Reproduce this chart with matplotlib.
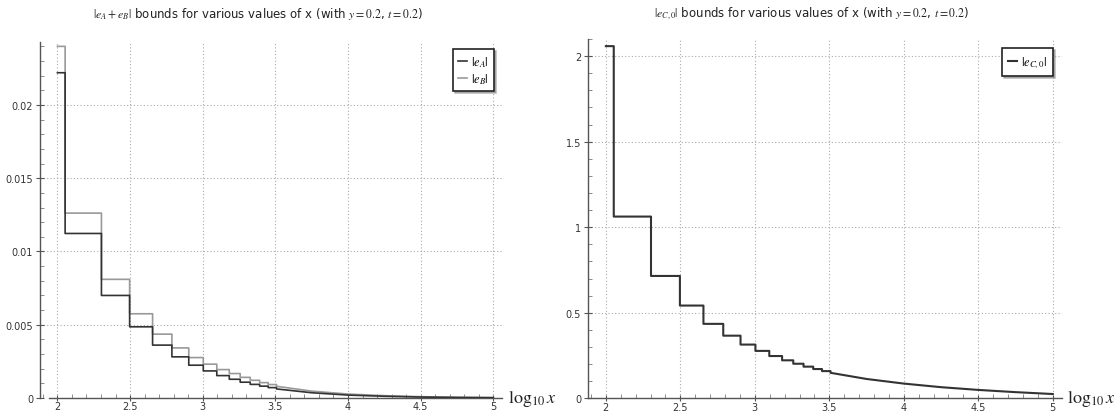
import matplotlib
matplotlib.use("Agg")
import matplotlib.pyplot as plt
import numpy as np
from matplotlib.ticker import MultipleLocator, FixedLocator, FixedFormatter

plt.rcParams['mathtext.fontset'] = 'stix'
plt.rcParams['font.family'] = 'DejaVu Sans'

# step edges (log10 x)
edges = [2.0, 2.053, 2.303, 2.497, 2.655, 2.788, 2.904, 3.004, 3.097,
         3.183, 3.258, 3.327, 3.392, 3.451, 3.508]

# left panel: |e_A| and |e_B|
eA_steps = [0.0222, 0.01123, 0.0070, 0.00486, 0.00361, 0.00281, 0.00224,
            0.00185, 0.00153, 0.00128, 0.00108, 0.00093, 0.00081, 0.00071]
eB_steps = [0.0240, 0.01262, 0.0081, 0.00575, 0.00436, 0.00342, 0.00276,
            0.00231, 0.00194, 0.00167, 0.00141, 0.00121, 0.00105, 0.00092]

# right panel: |e_C,0|
eC_steps = [2.058, 1.062, 0.715, 0.542, 0.435, 0.366, 0.314,
            0.277, 0.247, 0.222, 0.202, 0.185, 0.171, 0.159]

# tails (steps too fine to tell apart)
tail_x = [3.508, 3.75, 4.0, 4.25, 4.5, 4.75, 5.0]
eA_tail = [0.00062, 0.00036, 0.00020, 0.00012, 0.000065, 0.000037, 0.00002]
eB_tail = [0.00080, 0.00047, 0.00027, 0.00016, 0.00009, 0.00005, 0.00003]
eC_tail = [0.149, 0.113, 0.086, 0.065, 0.049, 0.036, 0.025]

left_yticks = [0, 0.005, 0.01, 0.015, 0.02]
left_ylabels = ['0', '0.005', '0.01', '0.015', '0.02']
right_yticks = [0, 0.5, 1, 1.5, 2]
right_ylabels = ['0', '0.5', '1', '1.5', '2']
xticks = [2, 2.5, 3, 3.5, 4, 4.5, 5]
xlabels = ['2', '2.5', '3', '3.5', '4', '4.5', '5']


def staircase(steps, tail):
    xs = list(np.repeat(edges, 2)[1:-1]) + tail_x
    ys = list(np.repeat(steps, 2)) + tail
    return xs, ys


def style_axes(ax, yticks, ylabels, yminor):
    ax.set_xlim(1.88, 5.06)
    for s in ['top', 'right']:
        ax.spines[s].set_visible(False)
    for s in ['left', 'bottom']:
        ax.spines[s].set_color('#555555')
        ax.spines[s].set_linewidth(1.0)
    ax.xaxis.set_major_locator(FixedLocator(xticks))
    ax.xaxis.set_major_formatter(FixedFormatter(xlabels))
    ax.xaxis.set_minor_locator(MultipleLocator(0.1))
    ax.yaxis.set_major_locator(FixedLocator(yticks))
    ax.yaxis.set_major_formatter(FixedFormatter(ylabels))
    ax.yaxis.set_minor_locator(MultipleLocator(yminor))
    ax.tick_params(which='major', direction='inout', length=6, width=0.8,
                   colors='#555555', labelsize=7, labelcolor='#333333', pad=2)
    ax.tick_params(axis='x', which='major', length=4, pad=0.5)
    ax.tick_params(which='minor', direction='in', length=3, width=0.6,
                   colors='#777777')
    ax.grid(True, which='major', linestyle=(0, (1, 2)), color='#aaaaaa',
            linewidth=0.8)
    ax.set_axisbelow(True)
    ax.text(1.012, 0, r'$\log_{10}x$', transform=ax.transAxes,
            fontsize=13, va='center', ha='left', color='#222222')


fig = plt.figure(figsize=(11.17, 4.14), dpi=100)
ax1 = fig.add_axes([0.0358, 0.0362, 0.4136, 0.86])
ax2 = fig.add_axes([0.5264, 0.0355, 0.4241, 0.868])

# left
x, y = staircase(eA_steps, eA_tail)
ax1.plot(x, y, color='#333333', lw=1.2, label=r'$|e_A|$', zorder=3)
x, y = staircase(eB_steps, eB_tail)
ax1.plot(x, y, color='#999999', lw=1.2, label=r'$|e_B|$', zorder=2)
ax1.set_ylim(0, 0.0243)
style_axes(ax1, left_yticks, left_ylabels, 0.001)
ax1.spines['bottom'].set_bounds(1.945, 5.06)
fig.text(0.231, 0.966,
         r'$|e_A+e_B|$ bounds for various values of x (with $y=0.2$, $t=0.2$)',
         fontsize=8.5, ha='center', va='center', color='#222222')
leg = ax1.legend(loc='upper right', bbox_to_anchor=(0.99, 0.99), borderaxespad=0.3,
                 handlelength=0.7, handletextpad=0.3, fontsize=9, fancybox=False,
                 shadow={'ox': 1.5, 'oy': -1.5, 'shade': 0.5}, edgecolor='#222222',
                 framealpha=1, labelspacing=0.2, borderpad=0.4)
leg.get_frame().set_linewidth(1.2)

# right
x, y = staircase(eC_steps, eC_tail)
ax2.plot(x, y, color='#333333', lw=1.5, label=r'$|e_{C,0}|$', zorder=3)
ax2.set_ylim(0, 2.10)
style_axes(ax2, right_yticks, right_ylabels, 0.1)
fig.text(0.727, 0.966,
         r'$|e_{C,0}|$ bounds for various values of x (with $y=0.2$, $t=0.2$)',
         fontsize=8.5, ha='center', va='center', color='#222222')
leg = ax2.legend(loc='upper right', bbox_to_anchor=(0.99, 0.985), borderaxespad=0.3,
                 handlelength=0.7, handletextpad=0.3, fontsize=9, fancybox=False,
                 shadow={'ox': 1.5, 'oy': -1.5, 'shade': 0.5}, edgecolor='#222222',
                 framealpha=1, borderpad=0.5)
leg.get_frame().set_linewidth(1.2)

fig.savefig('out.png', dpi=100)
